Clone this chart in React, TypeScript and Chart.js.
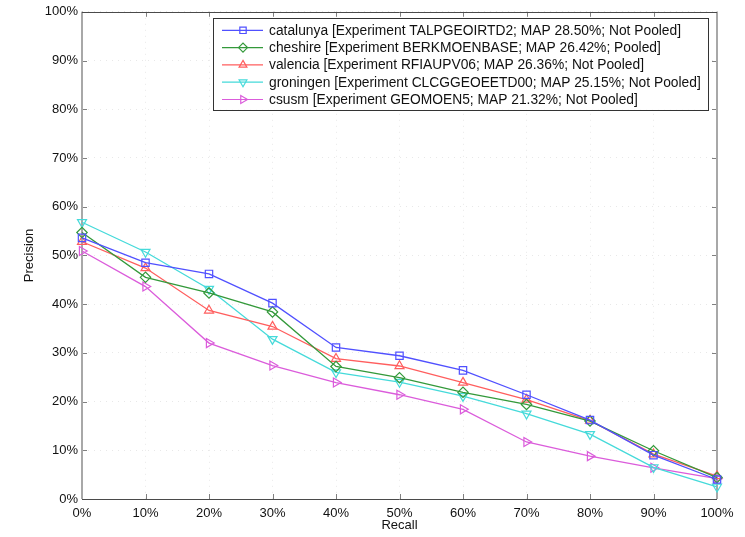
import { useEffect, useRef } from 'react';
import { Chart, registerables } from 'chart.js';
import { drawPoint } from 'chart.js/helpers';

Chart.register(...registerables);

// Recall levels (percent) at which precision was measured
const recallLevels = [0, 10, 20, 30, 40, 50, 60, 70, 80, 90, 100];

// Interpolated precision (percent) per run
const catalunya = [53.6, 48.5, 46.2, 40.2, 31.1, 29.4, 26.4, 21.4, 16.2, 9.0, 4.0];
const cheshire = [54.7, 45.5, 42.3, 38.4, 27.2, 24.9, 21.9, 19.4, 16.0, 9.9, 4.4];
const valencia = [52.8, 47.4, 38.7, 35.4, 28.8, 27.3, 23.9, 20.4, 16.1, 9.2, 4.7];
const groningen = [56.8, 50.7, 43.1, 32.8, 26.0, 24.0, 21.1, 17.5, 13.3, 6.5, 2.5];
const csusm = [50.9, 43.6, 32.0, 27.4, 23.9, 21.4, 18.4, 11.7, 8.8, 6.4, 4.2];

const seriesLabels = [
  'catalunya [Experiment TALPGEOIRTD2; MAP 28.50%; Not Pooled]',
  'cheshire [Experiment BERKMOENBASE; MAP 26.42%; Pooled]',
  'valencia [Experiment RFIAUPV06; MAP 26.36%; Not Pooled]',
  'groningen [Experiment CLCGGEOEETD00; MAP 25.15%; Not Pooled]',
  'csusm [Experiment GEOMOEN5; MAP 21.32%; Not Pooled]',
];
const seriesValues = [catalunya, cheshire, valencia, groningen, csusm];
const seriesColors = ['#5050ff', '#33993a', '#ff5e5e', '#45dada', '#db5cdb'];
const markerStyles = ['rect', 'rectRot', 'triangle', 'triangle', 'triangle'];
const markerRotations = [0, 0, 0, 180, 90];

const yTicks = [0, 10, 20, 30, 40, 50, 60, 70, 80, 90, 100];

const FONT = 'Liberation Sans, Arial, Helvetica, sans-serif';

// Box frame with inward tick marks, drawn under the data lines
const framePlugin = {
  id: 'frame',
  beforeDatasetsDraw(chart: any) {
    const { ctx, chartArea: a, scales } = chart;
    const xs = scales.x;
    const ys = scales.y;
    ctx.save();
    const tl = 5;
    // inward ticks
    ctx.strokeStyle = '#808080';
    ctx.lineWidth = 1;
    ctx.beginPath();
    for (const v of recallLevels) {
      const px = Math.round(xs.getPixelForValue(v)) + 0.5;
      ctx.moveTo(px, a.bottom);
      ctx.lineTo(px, a.bottom - tl);
      ctx.moveTo(px, a.top);
      ctx.lineTo(px, a.top + tl);
    }
    for (const v of yTicks) {
      const py = Math.round(ys.getPixelForValue(v)) + 0.5;
      ctx.moveTo(a.left, py);
      ctx.lineTo(a.left + tl, py);
      ctx.moveTo(a.right, py);
      ctx.lineTo(a.right - tl, py);
    }
    ctx.stroke();
    // left and right sides
    ctx.strokeStyle = '#a8a8a8';
    ctx.lineWidth = 2;
    ctx.beginPath();
    ctx.moveTo(a.left, a.top);
    ctx.lineTo(a.left, a.bottom);
    ctx.moveTo(a.right, a.top);
    ctx.lineTo(a.right, a.bottom);
    ctx.stroke();
    // top and bottom sides
    ctx.strokeStyle = '#4a4a4a';
    ctx.lineWidth = 1;
    ctx.beginPath();
    ctx.moveTo(a.left, Math.round(a.top) + 0.5);
    ctx.lineTo(a.right, Math.round(a.top) + 0.5);
    ctx.moveTo(a.left, Math.round(a.bottom) + 0.5);
    ctx.lineTo(a.right, Math.round(a.bottom) + 0.5);
    ctx.stroke();
    ctx.restore();
  },
};

// Boxed legend with line-and-marker samples in the upper right
const legendPlugin = {
  id: 'boxLegend',
  afterDraw(chart: any) {
    const { ctx, chartArea: a } = chart;
    const w = 495;
    const h = 92;
    const x0 = a.right - 9 - w;
    const y0 = a.top + 6;
    ctx.save();
    ctx.fillStyle = '#ffffff';
    ctx.fillRect(x0, y0, w, h);
    ctx.strokeStyle = '#333';
    ctx.lineWidth = 1;
    ctx.strokeRect(Math.round(x0) + 0.5, Math.round(y0) + 0.5, w, h);
    ctx.font = `13.8px ${FONT}`;
    ctx.textBaseline = 'middle';
    ctx.textAlign = 'left';
    chart.data.datasets.forEach((ds: any, i: number) => {
      const cy = y0 + 12.5 + i * 17.3;
      ctx.strokeStyle = ds.borderColor;
      ctx.lineWidth = 1.2;
      ctx.beginPath();
      ctx.moveTo(x0 + 9, cy);
      ctx.lineTo(x0 + 50, cy);
      ctx.stroke();
      ctx.fillStyle = 'rgba(0,0,0,0)';
      drawPoint(ctx, {
        pointStyle: ds.pointStyle,
        rotation: ds.pointRotation,
        radius: 4.5,
        borderWidth: 1.2,
      } as any, x0 + 30, cy);
      ctx.fillStyle = '#111';
      ctx.fillText(ds.label, x0 + 56, cy + 0.5);
    });
    ctx.restore();
  },
};

export default function App() {
  const canvasRef = useRef<HTMLCanvasElement | null>(null);

  useEffect(() => {
    const canvas = canvasRef.current;
    if (!canvas) return;
    const datasets = seriesValues.map((vals, i) => ({
      label: seriesLabels[i],
      data: recallLevels.map((r, k) => ({ x: r, y: vals[k] })),
      borderColor: seriesColors[i],
      backgroundColor: 'rgba(0,0,0,0)',
      borderWidth: 1.3,
      pointStyle: markerStyles[i],
      pointRotation: markerRotations[i],
      pointRadius: 5.2,
      pointBorderWidth: 1.2,
      pointBorderColor: seriesColors[i],
      pointBackgroundColor: 'rgba(0,0,0,0)',
      tension: 0,
      clip: false as any,
    }));

    const tickFont = { family: FONT, size: 13 };
    const chart = new Chart(canvas, {
      type: 'line',
      data: { datasets },
      plugins: [framePlugin, legendPlugin],
      options: {
        animation: false,
        responsive: false,
        maintainAspectRatio: false,
        layout: { padding: { top: 10, right: 28, left: 0, bottom: 0 } },
        plugins: {
          legend: { display: false },
          tooltip: { enabled: false },
        },
        scales: {
          x: {
            type: 'linear',
            min: 0,
            max: 100,
            afterFit: (s: any) => { s.height = 38; },
            ticks: {
              stepSize: 10,
              autoSkip: false,
              maxRotation: 0,
              padding: 7,
              color: '#111',
              font: tickFont,
              callback: (v: any) => `${v}%`,
            },
            grid: {
              color: 'rgba(0,0,0,0.09)',
              lineWidth: 1,
              drawTicks: false,
            },
            border: { display: false, dash: [1, 5] },
            title: {
              display: true,
              text: 'Recall',
              color: '#111',
              font: { family: FONT, size: 13 },
              padding: { top: 0, bottom: 4 },
            },
          },
          y: {
            type: 'linear',
            min: 0,
            max: 100,
            afterFit: (s: any) => { s.width = 82; },
            ticks: {
              stepSize: 10,
              autoSkip: false,
              padding: 4,
              color: '#111',
              font: tickFont,
              callback: (v: any) => `${v}%`,
            },
            grid: {
              color: 'rgba(0,0,0,0.09)',
              lineWidth: 1,
              drawTicks: false,
            },
            border: { display: false, dash: [1, 5] },
            title: {
              display: true,
              text: 'Precision',
              color: '#111',
              font: { family: FONT, size: 13 },
              padding: { top: 22, bottom: 0 },
            },
          },
        },
      },
    });
    return () => chart.destroy();
  }, []);

  return (
    <div style={{ position: 'absolute', left: 0, top: 0, width: 745, height: 537, background: '#fff' }}>
      <canvas ref={canvasRef} width={745} height={537} style={{ display: 'block' }} />
    </div>
  );
}
